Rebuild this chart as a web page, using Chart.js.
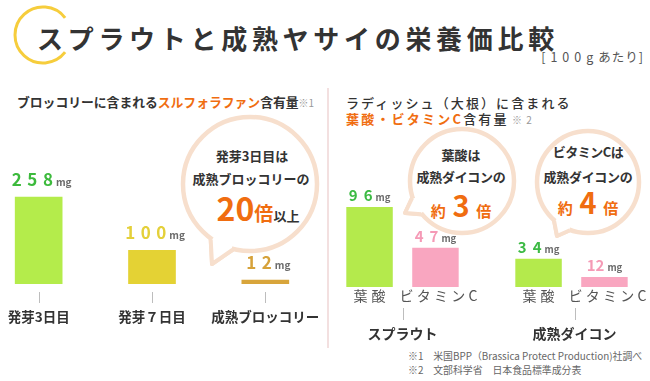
<!DOCTYPE html>
<html lang="ja">
<head>
<meta charset="utf-8">
<script src="https://cdn.jsdelivr.net/npm/chart.js@4.4.1/dist/chart.umd.min.js"></script>
<style>
  html,body{margin:0;padding:0;background:#fff;overflow:hidden;}
  #wrap{position:relative;width:650px;height:381px;overflow:hidden;background:#fff;font-family:"Noto Sans CJK JP","Noto Sans",sans-serif;color:#333;}
  .a{position:absolute;white-space:nowrap;}
  .c{text-align:center;}
  canvas{position:absolute;top:0;}
  .org{color:#f06d10;}
</style>
</head>
<body>
<div id="wrap">
  <svg class="a" style="left:0;top:0" width="650" height="381" viewBox="0 0 650 381">
    <path d="M 65.1 17.8 A 28 28 0 1 0 65.1 52.2" fill="none" stroke="#f6cd3c" stroke-width="3"/>
    <line x1="328" y1="88" x2="328" y2="348" stroke="#efd6d6" stroke-width="1.5"/>
    <g id="bubbles"></g>
  </svg>

  <div class="a" style="left:37px;top:21px;font-size:26px;font-weight:bold;letter-spacing:4.7px;line-height:34px;color:#333;">スプラウトと成熟ヤサイの栄養価比較</div>
  <div class="a" style="right:6px;top:49px;font-size:12.5px;line-height:16px;color:#555;"><span style="letter-spacing:5px;">[100g</span><span style="letter-spacing:1px;">あたり]</span></div>

  <div class="a" style="left:17px;top:94px;font-size:12.8px;font-weight:bold;line-height:16px;color:#333;">ブロッコリーに含まれる<span class="org">スルフォラファン</span>含有量<span style="font-size:10px;color:#999;font-weight:normal;">※1</span></div>

  <div class="a" style="left:346px;top:95px;font-size:13px;font-weight:500;letter-spacing:2.1px;line-height:16px;color:#333;">ラディッシュ（大根）に含まれる</div>
  <div class="a" style="left:346px;top:111px;font-size:13px;font-weight:500;letter-spacing:2.2px;line-height:16px;color:#333;"><span class="org" style="font-weight:bold;">葉酸・ビタミンC</span>含有量<span style="font-size:10px;color:#999;font-weight:normal;letter-spacing:1px;"> ※ 2</span></div>

  <!-- left bubble text -->
  <div class="a c" style="left:152px;width:200px;top:147px;font-size:13px;font-weight:bold;line-height:18px;">発芽3日目は</div>
  <div class="a c" style="left:151px;width:200px;top:170px;font-size:13px;font-weight:bold;line-height:18px;">成熟ブロッコリーの</div>
  <div class="a c" style="left:158px;width:200px;top:188px;font-weight:bold;line-height:38px;height:38px;"><span class="org" style="font-size:32px;">20</span><span class="org" style="font-size:19px;">倍</span><span style="font-size:13px;">以上</span></div>

  <!-- right bubble 1 text -->
  <div class="a c" style="left:361px;width:200px;top:146px;font-size:13px;font-weight:bold;line-height:18px;">葉酸は</div>
  <div class="a c" style="left:361px;width:200px;top:168px;font-size:13px;font-weight:bold;line-height:18px;letter-spacing:-0.3px;">成熟ダイコンの</div>
  <div class="a c" style="left:361px;width:200px;top:186px;font-weight:bold;line-height:36px;height:36px;"><span class="org" style="font-size:15px;">約</span><span class="org" style="font-size:29px;"> 3 </span><span class="org" style="font-size:15px;">倍</span></div>

  <!-- right bubble 2 text -->
  <div class="a c" style="left:488px;width:200px;top:143px;font-size:13px;font-weight:bold;line-height:18px;letter-spacing:-0.5px;">ビタミンCは</div>
  <div class="a c" style="left:488px;width:200px;top:168px;font-size:13px;font-weight:bold;line-height:18px;letter-spacing:-0.3px;">成熟ダイコンの</div>
  <div class="a c" style="left:488px;width:200px;top:183px;font-weight:bold;line-height:36px;height:36px;"><span class="org" style="font-size:15px;">約</span><span class="org" style="font-size:29px;"> 4 </span><span class="org" style="font-size:15px;">倍</span></div>

  <!-- footnotes -->
  <div class="a" style="left:408px;top:350px;font-size:9.9px;line-height:13px;color:#666;">※1　米国BPP（Brassica Protect Production)社調べ</div>
  <div class="a" style="left:408px;top:364px;font-size:9.9px;line-height:13px;color:#666;">※2　文部科学省　日本食品標準成分表</div>

  <canvas id="leftChart" width="340" height="381" style="left:-18px;"></canvas>
  <canvas id="rightChart" width="338" height="381" style="left:318px;"></canvas>
</div>

<script>
// ---------------- data ----------------
const leftCategories = ['発芽3日目', '発芽７日目', '成熟ブロッコリー'];
const sulforaphane = [258, 100, 12];

const rightGroups = ['スプラウト', '成熟ダイコン'];
const nutrientNames = ['葉酸', 'ビタミンC'];
const folate = [96, 34];
const vitaminC = [47, 12];
const unitLabel = 'mg';

// ---------------- styles ----------------
const leftBarColors = ['#b4ec4b', '#e4d234', '#d8a53b'];
const leftValueColors = ['#3cba3c', '#e4d03a', '#d6a23a'];
const rightBarColors = ['#b4ea4c', '#f9a6c0'];
const rightValueColors = ['#3cba44', '#f59ab6'];
const rightDigitGap = [[6, 6], [6, 0]];
const FONT = '"Noto Sans CJK JP", "Noto Sans", sans-serif';

// bubbles (decorative)
function bubble(cx, cy, r, a1, a2, tx, ty) {
  const rad = d => d * Math.PI / 180;
  const p1 = [cx + r * Math.cos(rad(a1)), cy + r * Math.sin(rad(a1))];
  const p2 = [cx + r * Math.cos(rad(a2)), cy + r * Math.sin(rad(a2))];
  const ri = r - 6;
  const q1 = [cx + ri * Math.cos(rad(a1 + 2)), cy + ri * Math.sin(rad(a1 + 2))];
  const q2 = [cx + ri * Math.cos(rad(a2 - 2)), cy + ri * Math.sin(rad(a2 - 2))];
  const col = '#f7dfcd';
  return `<path d="M${p1[0]},${p1[1]} L${tx},${ty} L${p2[0]},${p2[1]} Z" fill="#fff" stroke="${col}" stroke-width="4" stroke-linejoin="round"/>
  <circle cx="${cx}" cy="${cy}" r="${r}" fill="#fff" stroke="${col}" stroke-width="4.5"/>
  <path d="M${q1[0]},${q1[1]} L${p1[0]+ (tx-p1[0])*0.12},${p1[1]+(ty-p1[1])*0.12} L${tx},${ty} L${p2[0]+(tx-p2[0])*0.12},${p2[1]+(ty-p2[1])*0.12} L${q2[0]},${q2[1]} Z" fill="#fff" stroke="none"/>
  <path d="M${p1[0]+(tx-p1[0])*0.05},${p1[1]+(ty-p1[1])*0.05} L${tx},${ty} L${p2[0]+(tx-p2[0])*0.05},${p2[1]+(ty-p2[1])*0.05}" fill="none" stroke="${col}" stroke-width="4" stroke-linejoin="round"/>`;
}
document.getElementById('bubbles').innerHTML =
  bubble(250, 184, 67, 104, 126, 212, 264) +
  bubble(462, 181, 52, 140, 162, 405, 213) +
  bubble(588, 182, 51, 110, 132, 557, 236);

// ---------------- drawing helpers ----------------
function drawValue(ctx, cx, baseY, text, color, size, gap, unitSize) {
  ctx.save();
  ctx.textBaseline = 'alphabetic';
  ctx.font = `bold ${size}px ${FONT}`;
  const chars = text.split('');
  const widths = chars.map(c => ctx.measureText(c).width);
  let total = widths.reduce((a, b) => a + b, 0) + gap * (chars.length - 1);
  ctx.font = `bold ${unitSize}px ${FONT}`;
  const uw = ctx.measureText(unitLabel).width;
  total += 3 + uw;
  let x = cx - total / 2;
  ctx.font = `bold ${size}px ${FONT}`;
  ctx.fillStyle = color;
  ctx.textAlign = 'left';
  chars.forEach((c, i) => { ctx.fillText(c, x, baseY); x += widths[i] + gap; });
  x += 3 - gap;
  ctx.font = `bold ${unitSize}px ${FONT}`;
  ctx.fillStyle = '#6b6b6b';
  ctx.fillText(unitLabel, x, baseY);
  ctx.restore();
}
function drawTick(ctx, x, y1, y2) {
  ctx.save();
  ctx.strokeStyle = '#bdbdbd';
  ctx.lineWidth = 1;
  ctx.beginPath();
  ctx.moveTo(Math.round(x) + 0.5, y1);
  ctx.lineTo(Math.round(x) + 0.5, y2);
  ctx.stroke();
  ctx.restore();
}
function drawSpaced(ctx, text, cx, cy, font, color, spacing) {
  ctx.save();
  ctx.font = font;
  ctx.fillStyle = color;
  ctx.textBaseline = 'middle';
  ctx.textAlign = 'left';
  const chars = text.split('');
  const ws = chars.map(c => ctx.measureText(c).width);
  const total = ws.reduce((a, b) => a + b, 0) + spacing * (chars.length - 1);
  let x = cx - total / 2;
  chars.forEach((c, i) => { ctx.fillText(c, x, cy); x += ws[i] + spacing; });
  ctx.restore();
}

// ---------------- left chart ----------------
const leftLabelsPlugin = {
  id: 'leftLabels',
  afterDraw(chart) {
    const ctx = chart.ctx;
    const meta = chart.getDatasetMeta(0);
    meta.data.forEach((bar, i) => {
      drawValue(ctx, bar.x + 3, bar.y - 11, String(sulforaphane[i]), leftValueColors[i], 17, 5.5, 10);
      drawTick(ctx, bar.x, 292, 303);
      drawSpaced(ctx, leftCategories[i], bar.x, 317, `bold 13.5px ${FONT}`, '#333', 0);
    });
  }
};
new Chart(document.getElementById('leftChart'), {
  type: 'bar',
  data: {
    labels: leftCategories,
    datasets: [{
      data: sulforaphane,
      backgroundColor: leftBarColors,
      borderWidth: 0,
      barThickness: 47
    }]
  },
  options: {
    responsive: false,
    animation: false,
    layout: { padding: { top: 183, bottom: 97, left: 0, right: 0 } },
    plugins: { legend: { display: false }, tooltip: { enabled: false } },
    scales: {
      x: { display: false },
      y: { display: false, min: 0, max: 300 }
    }
  },
  plugins: [leftLabelsPlugin]
});

// ---------------- right chart ----------------
const rightSeries = [folate, vitaminC];
const rightLabelsPlugin = {
  id: 'rightLabels',
  afterDraw(chart) {
    const ctx = chart.ctx;
    rightSeries.forEach((series, d) => {
      const meta = chart.getDatasetMeta(d);
      meta.data.forEach((bar, i) => {
        drawValue(ctx, bar.x, bar.y - 6, String(series[i]), rightValueColors[d], 15, rightDigitGap[d][i], 9.5);
        drawSpaced(ctx, nutrientNames[d], bar.x + (d === 1 ? 3 : 0), 296, `14px ${FONT}`, '#555', d === 1 ? 3.2 : 4);
      });
    });
    const xs = chart.scales.x;
    rightGroups.forEach((g, i) => {
      const gx = xs.getPixelForValue(i) + (i === 1 ? 3 : 0);
      drawTick(ctx, gx, 308, 320);
      drawSpaced(ctx, g, gx, 334, `bold 14px ${FONT}`, '#333', 0);
    });
  }
};
new Chart(document.getElementById('rightChart'), {
  type: 'bar',
  data: {
    labels: rightGroups,
    datasets: [
      { label: nutrientNames[0], data: folate, backgroundColor: rightBarColors[0], borderWidth: 0 },
      { label: nutrientNames[1], data: vitaminC, backgroundColor: rightBarColors[1], borderWidth: 0 }
    ]
  },
  options: {
    responsive: false,
    animation: false,
    layout: { padding: { top: 187, bottom: 94, left: 0, right: 0 } },
    datasets: { bar: { categoryPercentage: 0.78, barPercentage: 0.705 } },
    plugins: { legend: { display: false }, tooltip: { enabled: false } },
    scales: {
      x: { display: false },
      y: { display: false, min: 0, max: 120 }
    }
  },
  plugins: [rightLabelsPlugin]
});
</script>
</body>
</html>
